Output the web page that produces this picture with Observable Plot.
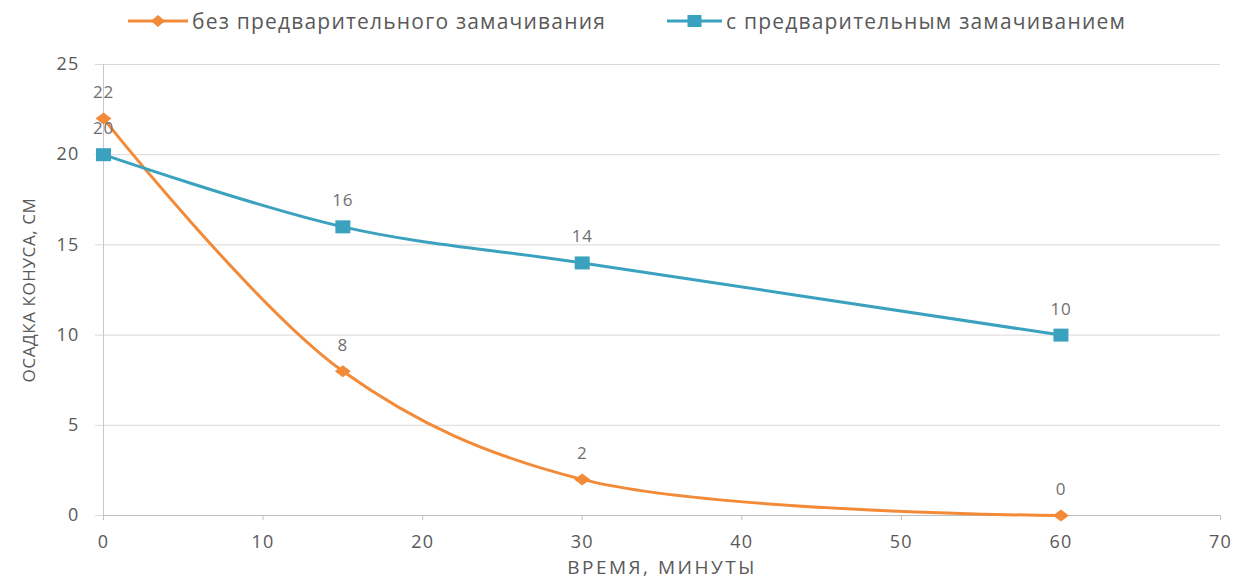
<!DOCTYPE html>
<html>
<head>
<meta charset="utf-8">
<script src="https://cdn.jsdelivr.net/npm/d3@7"></script>
<script src="https://cdn.jsdelivr.net/npm/@observablehq/plot@0.6"></script>
<style>
  html, body { margin: 0; padding: 0; background: #fff; }
  body { width: 1238px; height: 584px; overflow: hidden; font-family: "Open Sans", sans-serif; }
  #legend { position: relative; height: 40px; width: 1238px; }
  .item { position: absolute; top: 6px; display: flex; align-items: center; font-size: 21px; letter-spacing: 1.2px; color: #595959; white-space: nowrap; line-height: 30px; }
  .item svg { margin-right: 4px; }
</style>
</head>
<body>
<div id="legend"></div>
<div id="chart"></div>
<script>
const times = [0, 15, 30, 60];
const seriesNames = ["без предварительного замачивания", "с предварительным замачиванием"];
const noSoak = [22, 8, 2, 0];
const withSoak = [20, 16, 14, 10];
const xTicks = [0, 10, 20, 30, 40, 50, 60, 70];
const yTicks = [0, 5, 10, 15, 20, 25];
const colors = ["#F28A38", "#3AA2BF"];
const xTitle = "ВРЕМЯ, МИНУТЫ";
const yTitle = "ОСАДКА КОНУСА, СМ";

const data = [
  ...times.map((t, i) => ({series: seriesNames[0], t, v: noSoak[i]})),
  ...times.map((t, i) => ({series: seriesNames[1], t, v: withSoak[i]}))
];

// custom marker shapes (wide diamond, square)
const wideDiamond = {draw(ctx) { ctx.moveTo(0, -6); ctx.lineTo(8, 0); ctx.lineTo(0, 6); ctx.lineTo(-8, 0); ctx.closePath(); }};
const squareMarker = {draw(ctx) { ctx.moveTo(-7.5, -6.5); ctx.lineTo(7.5, -6.5); ctx.lineTo(7.5, 6.5); ctx.lineTo(-7.5, 6.5); ctx.closePath(); }};
const markers = [wideDiamond, squareMarker];

// Legend
const legend = document.getElementById("legend");
const lefts = [128, 667];
const lineWidths = [60, 55];
seriesNames.forEach((name, i) => {
  const div = document.createElement("div");
  div.className = "item";
  div.style.left = lefts[i] + "px";
  const w = lineWidths[i], c = w / 2;
  const sym = i === 1
    ? `<rect x="${c - 7}" y="2" width="14" height="12" fill="${colors[i]}"/>`
    : `<path d="M${c},2 L${c + 7},8 L${c},14 L${c - 7},8 Z" fill="${colors[i]}"/>`;
  div.innerHTML = `<svg width="${w}" height="16"><line x1="0" x2="${w}" y1="8" y2="8" stroke="${colors[i]}" stroke-width="3"/>${sym}</svg><span>${name}</span>`;
  legend.appendChild(div);
});

const chart = Plot.plot({
  width: 1238,
  height: 544,
  marginTop: 24,
  marginBottom: 69,
  marginLeft: 103,
  marginRight: 18,
  style: {fontFamily: "'Open Sans', sans-serif", color: "#595959", background: "#fff"},
  x: {domain: [0, 70]},
  y: {domain: [0, 25]},
  color: {domain: seriesNames, range: colors},
  symbol: {domain: seriesNames, range: markers},
  marks: [
    Plot.gridY(yTicks.filter(d => d > 0), {stroke: "#D9D9D9", strokeOpacity: 1, strokeWidth: 1}),
    Plot.axisY(yTicks, {tickSize: 8, tickPadding: 16, fontSize: 18, stroke: "#D9D9D9", strokeOpacity: 1, label: null}),
    Plot.axisX(xTicks, {tickSize: 5, tickPadding: 15, fontSize: 18, stroke: "#BFBFBF", strokeOpacity: 1, label: null}),
    Plot.text([xTitle], {text: d => d, frameAnchor: "bottom", textAnchor: "middle", lineAnchor: "middle", dy: 52, fontSize: 19, fill: "#595959"}),
    Plot.text([yTitle], {text: d => d, frameAnchor: "left", textAnchor: "middle", lineAnchor: "middle", dx: -74, rotate: -90, fontSize: 17, fill: "#595959"}),
    Plot.ruleY([0], {stroke: "#BFBFBF"}),
    Plot.ruleX([0], {stroke: "#C8C8C8"}),
    Plot.line(data, {x: "t", y: "v", z: "series", stroke: "series", strokeWidth: 3, curve: "catmull-rom"}),
    Plot.dot(data, {x: "t", y: "v", fill: "series", symbol: "series", r: 6.5, stroke: "none"}),
    Plot.text(data, {x: "t", y: "v", text: d => String(d.v), dy: -26, fill: "#6f6f6f", fontSize: 17})
  ]
});
document.getElementById("chart").appendChild(chart);

// letter spacing to mimic the reference's wide lettering
const svg = d3.select(chart);
svg.selectAll('g[aria-label="x-axis tick label"] text, g[aria-label="y-axis tick label"] text').attr("letter-spacing", 1.2);
svg.selectAll("text").each(function() {
  const t = this.textContent;
  if (t === xTitle) this.setAttribute("letter-spacing", 2.5);
  else if (t === yTitle) this.setAttribute("letter-spacing", 0.6);
});
svg.selectAll('g[aria-label="text"] text').each(function() {
  if (this.textContent !== xTitle && this.textContent !== yTitle) this.setAttribute("letter-spacing", 0.8);
});
</script>
</body>
</html>
